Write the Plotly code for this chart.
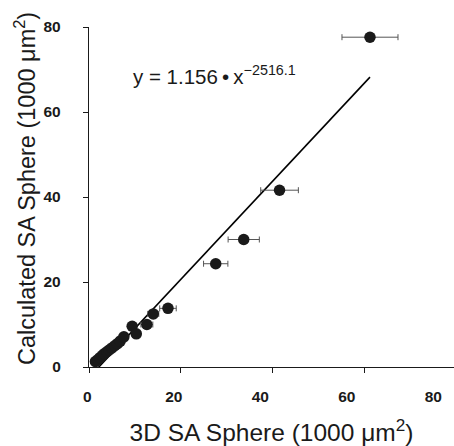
import plotly.graph_objects as go

# Data (thousands of square micrometres)
sa_3d = [1.4, 1.9, 2.4, 2.9, 3.3, 3.9, 4.4, 5.0, 5.6, 6.2, 6.8, 7.6,
         9.4, 10.3, 12.6, 14.0, 17.2, 27.6, 33.7, 41.5, 61.2]
sa_calc = [1.3, 1.7, 2.2, 2.7, 3.1, 3.6, 4.0, 4.5, 5.0, 5.5, 6.1, 7.1,
           9.6, 7.8, 10.0, 12.5, 13.8, 24.3, 30.0, 41.6, 77.6]
sa_3d_err = [0.2, 0.2, 0.2, 0.3, 0.3, 0.3, 0.4, 0.4, 0.5, 0.5, 0.6, 0.7,
             0.8, 0.9, 1.3, 1.2, 1.8, 2.65, 3.4, 4.1, 6.1]

fit_x = [1.8, 61.2]
fit_y = [-0.4, 68.2]

x_ticks = [0, 20, 40, 60, 80]
y_ticks = [0, 20, 40, 60, 80]

FONT = "Liberation Sans, Arial, sans-serif"
INK = "#1a1a1a"

fig = go.Figure()
fig.add_trace(go.Scatter(
    x=fit_x, y=fit_y, mode="lines",
    line=dict(color="black", width=1.6), showlegend=False, hoverinfo="skip"))
fig.add_trace(go.Scatter(
    x=sa_3d, y=sa_calc, mode="markers",
    marker=dict(color=INK, size=11.5, line=dict(width=0)),
    error_x=dict(type="data", array=sa_3d_err, color="#555555",
                 thickness=1, width=3),
    showlegend=False))
# label-only axis (the printed tick labels are spaced a little tighter than the ticks)
fig.add_trace(go.Scatter(x=[None], y=[None], xaxis="x2", yaxis="y",
                         mode="markers", showlegend=False, hoverinfo="skip"))

fig.add_annotation(
    x=9.1, y=68.6, xref="x", yref="y", xanchor="left", yanchor="middle",
    text="y = 1.156\u2009\u2022\u2009x<sup>\u22122516.1</sup>", showarrow=False,
    font=dict(family=FONT, size=20.5, color=INK))

L = 86
PW = 454 - L
PH = 446 - 27 - 79
# y-axis title (centred a little above the plot-area middle, as in the original)
fig.add_annotation(
    x=(25 - L) / PW, y=(446 - 79 - 189) / PH, xref="paper", yref="paper",
    xanchor="center", yanchor="middle", textangle=-90, showarrow=False,
    text="Calculated SA Sphere (1000 \u03bcm<sup>2</sup>)",
    font=dict(family=FONT, size=23.5, color=INK))

fig.update_layout(
    width=454, height=446,
    margin=dict(l=L, r=0, t=27, b=79, autoexpand=False),
    paper_bgcolor="white", plot_bgcolor="rgba(0,0,0,0)",
    font=dict(family=FONT, color=INK),
    xaxis=dict(
        domain=[(89 - L) / PW, 1],
        range=[0, 79.5], tickvals=x_ticks, showticklabels=False,
        ticks="outside", ticklen=5, tickwidth=1, tickcolor=INK,
        showline=True, linecolor=INK, linewidth=1.3,
        showgrid=False, zeroline=False, automargin=False,
        title=dict(text="3D SA Sphere (1000 \u03bcm<sup>2</sup>)", standoff=51,
                   font=dict(family=FONT, size=24.5, color=INK))),
    xaxis2=dict(
        domain=[(87.3 - L) / PW, (433.3 - L) / PW],
        anchor="free", position=0,
        range=[0, 80], tickvals=x_ticks,
        ticktext=[str(v) for v in x_ticks],
        ticks="", showline=False, showgrid=False, zeroline=False,
        tickfont=dict(family=FONT, size=15.5, weight="bold", color=INK),
        ticklabelstandoff=18, automargin=False),
    yaxis=dict(
        range=[0, 80], tickvals=y_ticks, ticktext=[str(v) for v in y_ticks],
        ticks="outside", ticklen=5, tickwidth=1, tickcolor=INK,
        showline=True, linecolor=INK, linewidth=1.3,
        showgrid=False, zeroline=False,
        tickfont=dict(family=FONT, size=15.5, weight="bold", color=INK),
        ticklabelstandoff=19, automargin=False),
)

fig.write_html("out.html", config={"displayModeBar": False},
               post_script="document.body.style.margin='0';"
                           "document.body.style.overflow='hidden';")
